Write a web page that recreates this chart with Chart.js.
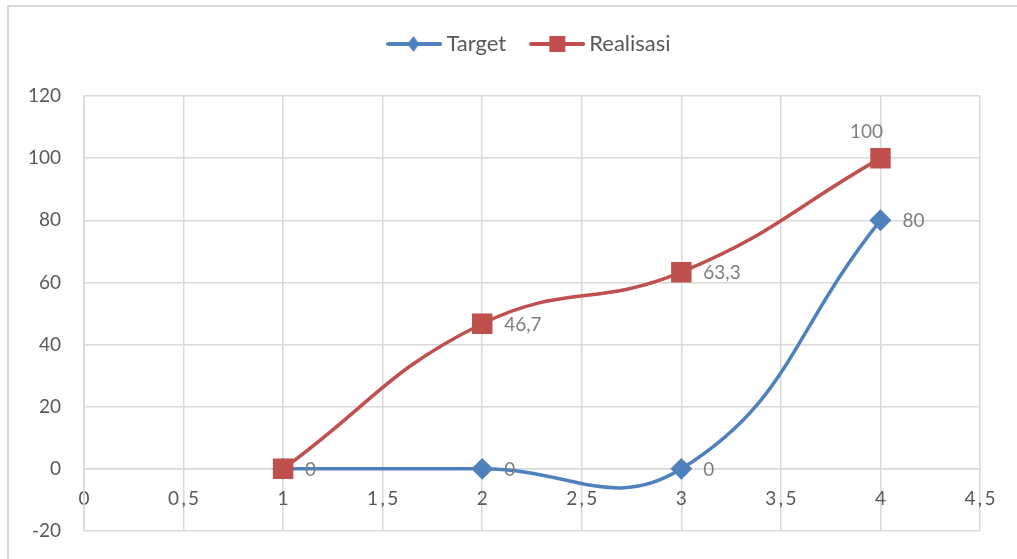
<!DOCTYPE html>
<html>
<head>
<meta charset="utf-8">
<script src="https://cdn.jsdelivr.net/npm/chart.js@4.4.1/dist/chart.umd.min.js"></script>
<style>
  html, body { margin: 0; padding: 0; background: #fff; overflow: hidden; }
  #frame { position: absolute; left: 7px; top: 5px; width: 1100px; height: 700px; border: 2px solid #d9d9d9; }
  #wrap { position: absolute; left: 0; top: 0; width: 1017px; height: 559px; }
</style>
</head>
<body>
<div id="frame"></div>
<div id="wrap"><canvas id="chart" width="1017" height="559"></canvas></div>
<script>
const xValues = [1, 2, 3, 4];
const targetValues = [0, 0, 0, 80];
const realisasiValues = [0, 46.7, 63.3, 100];
const seriesNames = ["Target", "Realisasi"];

const blue = "#4f81bd";
const red = "#c0504d";
const fontFamily = "Lato, 'Open Sans', sans-serif";

const toPoints = (ys) => xValues.map((x, i) => ({ x: x, y: ys[i] }));
const fmt = (v) => String(v).replace(".", ",");

// legend symbol: line with the marker in the middle
const legendIcon = (color, shape) => {
    const c = document.createElement("canvas");
    c.width = 56; c.height = 20;
    const g = c.getContext("2d");
    g.strokeStyle = color; g.lineWidth = 4; g.lineCap = "round";
    g.beginPath(); g.moveTo(2, 10); g.lineTo(54, 10); g.stroke();
    g.fillStyle = color;
    if (shape === "diamond") {
        g.beginPath(); g.moveTo(27, 2); g.lineTo(33, 10); g.lineTo(27, 18); g.lineTo(21, 10); g.closePath(); g.fill();
    } else {
        g.fillRect(20, 2, 16, 16);
    }
    return c;
};
const icons = [legendIcon(blue, "diamond"), legendIcon(red, "square")];

const valueLabels = {
    id: "valueLabels",
    afterDatasetsDraw(chart) {
        const ctx = chart.ctx;
        ctx.save();
        ctx.font = "19px " + fontFamily;
        ctx.fillStyle = "#7f7f7f";
        ctx.textBaseline = "middle";
        chart.data.datasets.forEach((ds, di) => {
            const meta = chart.getDatasetMeta(di);
            meta.data.forEach((pt, i) => {
                const pos = ds.labelPos[i];
                if (pos === "none") return;
                const text = fmt(ds.data[i].y);
                if (pos === "above") {
                    ctx.textAlign = "center";
                    ctx.fillText(text, pt.x - 14, pt.y - 26);
                } else {
                    ctx.textAlign = "left";
                    ctx.fillText(text, pt.x + 22, pt.y + 1);
                }
            });
        });
        ctx.restore();
    }
};

new Chart(document.getElementById("chart"), {
    type: "scatter",
    plugins: [valueLabels],
    data: {
        datasets: [
            {
                label: seriesNames[0],
                data: toPoints(targetValues),
                showLine: true,
                borderColor: blue,
                backgroundColor: blue,
                borderWidth: 3.5,
                tension: 0.45,
                pointStyle: "rectRot",
                pointRadius: 8.5,
                pointHoverRadius: 8.5,
                order: 1,
                labelPos: ["right", "right", "right", "right"],
            },
            {
                label: seriesNames[1],
                data: toPoints(realisasiValues),
                showLine: true,
                borderColor: red,
                backgroundColor: red,
                borderWidth: 3.5,
                tension: 0.45,
                pointStyle: "rect",
                pointRadius: 12,
                pointHoverRadius: 12,
                order: 0,
                labelPos: ["none", "right", "right", "above"],
            },
        ],
    },
    options: {
        responsive: false,
        animation: false,
        layout: { padding: { left: 0, right: 37, top: 3, bottom: 28 } },
        plugins: {
            tooltip: { enabled: false },
            // empty title used as a spacer between legend and plot
            title: { display: true, text: "", font: { size: 10 }, padding: { top: 9, bottom: 10 } },
            legend: {
                position: "top",
                weight: 3000,
                fullSize: false,
                labels: {
                    usePointStyle: true,
                    pointStyleWidth: 42,
                    color: "#595959",
                    font: { family: fontFamily, size: 22 },
                    padding: 30,
                    generateLabels: (chart) => chart.data.datasets.map((ds, i) => ({
                        text: ds.label,
                        pointStyle: icons[i],
                        fillStyle: ds.borderColor,
                        strokeStyle: ds.borderColor,
                        lineWidth: 0,
                        fontColor: "#595959",
                        datasetIndex: i,
                    })),
                },
            },
        },
        scales: {
            x: {
                type: "linear",
                position: { y: 0 },
                min: 0,
                max: 4.5,
                ticks: {
                    stepSize: 0.5,
                    color: "#595959",
                    font: { family: fontFamily, size: 19 },
                    padding: 19,
                    maxRotation: 0,
                    callback: (v) => String(v).replace(".", "\u2009,\u2009"),
                },
                grid: { color: "#d9d9d9", lineWidth: 1.5, drawTicks: false },
                border: { color: "#d9d9d9", width: 1.5 },
            },
            y: {
                min: -20,
                max: 120,
                // fixed axis width; tick padding should not push the plot bottom up
                afterFit: (scale) => { scale.width = 84; scale.paddingBottom = 12; },
                ticks: {
                    stepSize: 20,
                    color: "#595959",
                    font: { family: fontFamily, size: 19 },
                    padding: 23,
                },
                grid: { color: "#d9d9d9", lineWidth: 1.5, drawTicks: false },
                border: { color: "#d9d9d9", width: 1.5 },
            },
        },
    },
});
</script>
</body>
</html>
